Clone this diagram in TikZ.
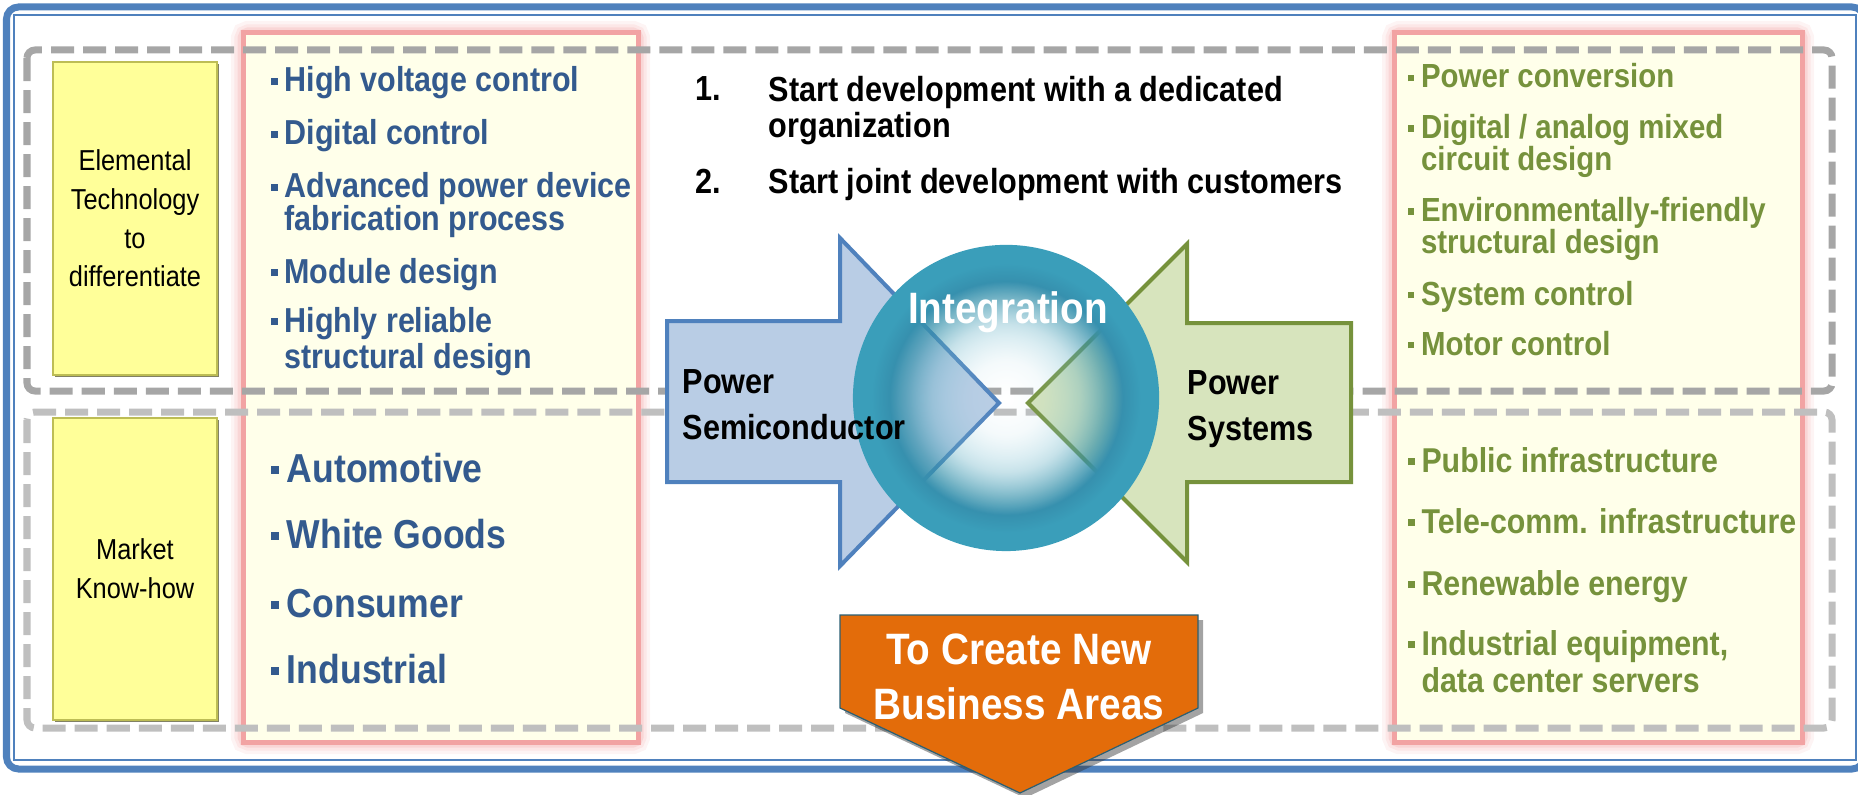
\documentclass[tikz,border=0pt]{standalone}
\usepackage{fontspec}
\setmainfont{Liberation Sans}[FakeStretch=0.88]
\usepackage{tikz}
\usetikzlibrary{shadows,fadings,positioning}

\definecolor{frameblue}{HTML}{4F81BD}
\definecolor{techblue}{HTML}{335A8E}
\definecolor{sysgreen}{HTML}{76923C}
\definecolor{semifill}{HTML}{B9CDE5}
\definecolor{sysfill}{HTML}{D7E4BD}
\definecolor{orbteal}{HTML}{3A9EBA}
\definecolor{orbring}{HTML}{3690AE}
\definecolor{bizorange}{HTML}{E36C0A}
\definecolor{bizedge}{HTML}{2B5F73}
\definecolor{panelfill}{HTML}{FFFFEA}
\definecolor{panelpink}{HTML}{F2A3A3}
\definecolor{sidefill}{HTML}{FFFF99}
\definecolor{sideedge}{HTML}{BDBD55}
\definecolor{dashdark}{HTML}{A6A6A6}
\definecolor{dashlight}{HTML}{BFBFBF}

% the integration ball: teal rim, see-through middle
\pgfdeclareradialshading{orbshade}{\pgfpointorigin}{%
  color(0bp)=(orbteal!30!white); color(10bp)=(orbteal!70!white);
  color(16bp)=(orbteal!92!black); color(19bp)=(orbring); color(22bp)=(orbteal);
  color(50bp)=(orbteal)}
\pgfdeclareradialshading{orbmask}{\pgfpointorigin}{%
  color(0bp)=(black); color(6bp)=(black!90); color(12bp)=(black!65);
  color(16bp)=(black!35); color(19bp)=(white); color(50bp)=(white)}
\pgfdeclarefading{orbfade}{\pgfuseshading{orbmask}}

\newcommand{\sqbul}{\raisebox{0.2em}{\rule{0.2em}{0.2em}}\hspace{0.2em}}

\tikzset{
  dashbox/.style={line width=0.7mm, dash pattern=on 2.3mm off 0.9mm, rounded corners=0.8mm},
  panel/.style={fill=panelfill, draw=panelpink, line width=0.5mm},
  sidebox/.style={draw=sideedge, line width=0.15mm, fill=sidefill, minimum width=1.64cm,
    align=center, inner sep=0pt, font=\fontsize{8.2}{11}\selectfont,
    drop shadow={shadow xshift=0.2mm, shadow yshift=-0.2mm, fill=black!60!sideedge, opacity=0.7}},
  listitem/.style={anchor=base west, inner sep=0pt, align=left},
  techitem/.style={listitem, text=techblue, font=\bfseries\fontsize{9.85}{9.2}\selectfont},
  mktitem/.style={listitem, text=techblue, font=\bfseries\fontsize{11.5}{12}\selectfont},
  sysitem/.style={listitem, text=sysgreen, font=\bfseries\fontsize{9.5}{9}\selectfont},
  appitem/.style={listitem, text=sysgreen, font=\bfseries\fontsize{9.8}{10.5}\selectfont},
  steplabel/.style={listitem, font=\bfseries\fontsize{9.9}{10.2}\selectfont},
  steptext/.style={steplabel},
  semiarrow/.style={fill=semifill, draw=frameblue, line width=0.4mm, line join=miter},
  sysarrow/.style={fill=sysfill, draw=sysgreen, line width=0.4mm, line join=miter},
  arrowlabel/.style={listitem, font=\bfseries\fontsize{9.9}{13}\selectfont},
  orblabel/.style={anchor=base, inner sep=0pt, text=white, font=\bfseries\fontsize{12.5}{14}\selectfont},
  bizarrow/.style={fill=bizorange, draw=bizedge, line width=0.12mm,
    drop shadow={shadow xshift=0.5mm, shadow yshift=-0.5mm, fill=black!80, opacity=0.45}},
  bizlabel/.style={anchor=base, inner sep=0pt, align=center, text=white,
    font=\bfseries\fontsize{12.5}{15.6}\selectfont}
}

\begin{document}
\begin{tikzpicture}[x=0.01cm, y=-0.01cm]
  \clip (0,0) rectangle (1858,794);

  % double frame
  \draw[draw=frameblue, line width=0.7mm, rounded corners=1.2mm] (6.5,7) rectangle (1864,769);
  \draw[draw=frameblue, line width=0.25mm] (14,15) rectangle (1856,760);

  % pink glowing panels
  \foreach \w/\o in {2.4mm/0.12, 1.7mm/0.16, 1.1mm/0.25}{
    \draw[panelpink, line width=\w, opacity=\o, rounded corners=0.5mm] (243,33) rectangle (638,742);
    \draw[panelpink, line width=\w, opacity=\o, rounded corners=0.5mm] (1394,33) rectangle (1802,742);
  }
  \draw[panel] (243,33) rectangle (638,742);
  \draw[panel] (1394,33) rectangle (1802,742);

  % dashed rows
  \draw[dashbox, draw=dashdark] (27,50) rectangle (1832,391);
  \draw[dashbox, draw=dashlight] (27,412) rectangle (1832,728);

  % row titles
  \node[sidebox, minimum height=3.13cm] (elem) at (135,218.5) {Elemental\\Technology\\to\\differentiate};
  \node[sidebox, minimum height=3.02cm] (market) at (135,569) {Market\\Know-how};

  % semiconductor side (two-line items sit on their last line)
  \node[techitem] (hv) at (270,92) {\sqbul High voltage control};
  \node[techitem] (dig) at (270,145) {\sqbul Digital control};
  \node[techitem] (adv) at (270,230) {\sqbul Advanced power device\\\phantom{\sqbul}fabrication process};
  \node[techitem] (mod) at (270,283) {\sqbul Module design};
  \node[techitem] (rel) at (270,368) {\sqbul Highly reliable\\\phantom{\sqbul}structural design};

  \node[mktitem] (auto) at (270,482) {\sqbul Automotive};
  \node[mktitem] (white) at (270,548) {\sqbul White Goods};
  \node[mktitem] (cons) at (270,617) {\sqbul Consumer};
  \node[mktitem] (indus) at (270,683) {\sqbul Industrial};

  % systems side
  \node[sysitem] (pc) at (1407,88) {\sqbul Power conversion};
  \node[sysitem] (mix) at (1407,170) {\sqbul Digital / analog mixed\\\phantom{\sqbul}circuit design};
  \node[sysitem] (eco) at (1407,253) {\sqbul Environmentally-friendly\\\phantom{\sqbul}structural design};
  \node[sysitem] (sc) at (1407,305) {\sqbul System control};
  \node[sysitem] (mc) at (1407,355) {\sqbul Motor control};

  \node[appitem] (pub) at (1407,472) {\sqbul Public infrastructure};
  \node[appitem] (tel) at (1407,533) {\sqbul Tele-comm. infrastructure};
  \node[appitem] (ren) at (1407,595) {\sqbul Renewable energy};
  \node[appitem] (equip) at (1407,692) {\sqbul Industrial equipment,\\\phantom{\sqbul}data center servers};

  % steps
  \node[steplabel] (n1) at (695,101) {1.};
  \node[steptext] (s1) at (768,137) {Start development with a dedicated\\organization};
  \node[steplabel] (n2) at (695,193) {2.};
  \node[steptext] (s2) at (768,193) {Start joint development with customers};

  % the two arrows meeting in the ball
  \draw[semiarrow] (667,321) -- (840,321) -- (840,238) -- (999,403) -- (840,566) -- (840,482) -- (667,482) -- cycle;
  \draw[sysarrow] (1351,323) -- (1187,323) -- (1187,244) -- (1028,403) -- (1187,562) -- (1187,482) -- (1351,482) -- cycle;

  \node[circle, minimum size=3.06cm, inner sep=0pt, shade, shading=orbshade, path fading=orbfade] (orb) at (1006,398) {};

  \node[arrowlabel] (semi) at (682,439) {Power\\Semiconductor};
  \node[arrowlabel] (sys) at (1187,440) {Power\\Systems};
  \node[orblabel] (integ) at (1008,323) {Integration};

  % result
  \draw[bizarrow] (840,615) -- (1198,615) -- (1198,708) -- (1020,793) -- (840,708) -- cycle;
  \node[bizlabel] (newbiz) at (1019,719) {To Create New\\Business Areas};
\end{tikzpicture}
\end{document}
